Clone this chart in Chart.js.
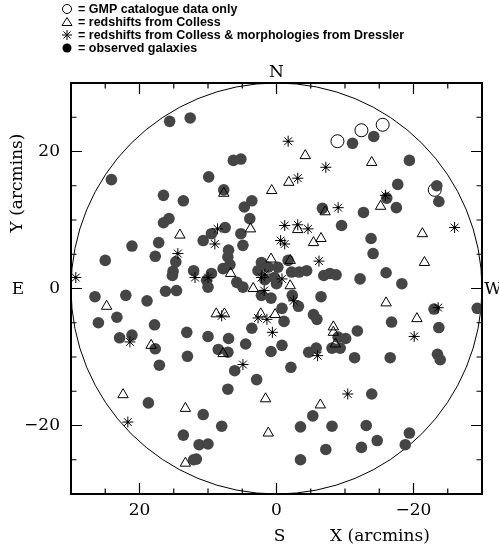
<!DOCTYPE html>
<html>
<head>
<meta charset="utf-8">
<script src="https://cdn.jsdelivr.net/npm/chart.js@4/dist/chart.umd.min.js"></script>
<style>
  body { margin: 0; background: #fff; }
  canvas { display: block; }
</style>
</head>
<body>
<canvas id="fieldChart" width="499" height="548"></canvas>
<script>
// Galaxy positions in arcmins, [X, Y]; X grows towards the east (left)
const gmpOnly = [
    [-8.9, 21.5], [-12.4, 23.1], [-15.5, 23.9], [-23.1, 14.4]
];

const collessRedshifts = [
    [14.1, 7.8], [-4.2, 19.4], [-1.8, 15.5], [0.7, 14.3], [7.7, 13.9],
    [-7.1, 11.2], [3.8, 8.7], [-3.1, 8.6], [-5.4, 6.7], [-6.5, 7.3],
    [6.7, 2.2], [0.8, 4.3], [-2.0, 4.1], [-2.0, 0.4], [3.4, 0.0],
    [-13.9, 18.4], [-15.2, 12.0], [-21.3, 8.0], [-21.6, 3.8], [24.8, -2.6],
    [18.3, -8.3], [22.4, -15.5], [13.3, -17.5], [13.3, -25.5], [8.8, -3.7],
    [7.6, -3.7], [2.3, -3.7], [0.2, -3.8], [-8.3, -5.6], [-8.3, -6.4],
    [-8.6, -8.1], [7.8, -9.5], [1.6, -16.1], [1.2, -21.1], [-6.4, -17.0],
    [-16.0, -2.1], [-20.5, -4.4]
];

const collessDressler = [
    [-1.7, 21.5], [-7.2, 17.7], [-3.1, 16.1], [-9.0, 11.8], [-1.2, 9.2],
    [-3.1, 9.3], [-4.6, 8.7], [-0.6, 7.0], [-1.2, 6.5], [8.6, 8.7],
    [9.0, 6.5], [14.4, 5.1], [29.3, 1.6], [11.9, 1.6], [10.0, 1.6],
    [1.7, 2.1], [2.2, 1.6], [-6.2, 4.0], [-0.8, 1.4], [1.8, -0.3],
    [-15.9, 13.6], [-26.0, 8.9], [-2.5, -1.8], [8.0, -4.0], [2.7, -4.3],
    [1.4, -4.5], [0.6, -6.4], [-6.0, -9.8], [4.9, -11.1], [21.4, -7.8],
    [21.7, -19.5], [-23.6, -2.8], [-20.1, -7.0], [-10.4, -15.4]
];

const observedGalaxies = [
    [15.6, 24.4], [12.6, 24.9], [24.1, 15.9], [9.9, 16.3], [16.5, 13.6],
    [13.6, 12.8], [15.7, 10.2], [16.5, 9.6], [10.7, 7.0], [17.2, 6.7],
    [21.1, 6.2], [17.7, 4.7], [14.7, 3.9], [25.0, 4.1], [15.1, 2.5],
    [15.2, 1.9], [12.1, 2.6], [16.2, -0.4], [14.6, -0.3], [6.3, 18.7],
    [5.2, 18.9], [7.7, 14.4], [3.6, 12.8], [4.7, 11.9], [-6.7, 11.7],
    [3.9, 10.2], [-9.5, 9.2], [7.5, 8.9], [9.5, 8.0], [5.2, 8.0],
    [4.9, 6.3], [7.0, 5.6], [7.1, 4.6], [6.8, 3.5], [7.8, 2.9],
    [9.5, 2.2], [10.2, 1.2], [5.8, 0.9], [4.9, 0.2], [2.2, 3.8],
    [-0.2, 3.1], [1.2, 3.1], [2.7, 2.6], [1.7, 1.3], [0.3, 1.6],
    [0.0, 0.7], [-1.7, 4.1], [-2.2, 2.4], [-3.3, 2.4], [-4.4, 2.6],
    [-6.9, 1.9], [-7.8, 2.2], [-8.7, 2.0], [-14.2, 22.2], [-11.1, 21.2],
    [-19.4, 18.7], [-17.7, 15.2], [-23.4, 15.0], [-16.1, 13.2], [-17.5, 11.8],
    [-23.7, 12.7], [-12.7, 11.1], [-13.8, 7.3], [-14.1, 5.1], [-16.0, 2.3],
    [-12.2, 1.4], [-18.3, 0.7], [26.5, -1.2], [22.0, -1.0], [18.9, -1.8],
    [10.0, 0.2], [26.0, -5.0], [23.3, -4.2], [17.8, -5.3], [22.9, -7.2],
    [21.1, -6.8], [17.7, -8.8], [13.1, -6.4], [10.0, -7.0], [13.0, -9.9],
    [17.1, -11.2], [18.7, -16.7], [10.7, -18.4], [13.6, -21.4], [11.3, -22.8],
    [10.0, -22.7], [12.1, -25.0], [11.7, -24.9], [2.2, -1.0], [0.8, -1.4],
    [-2.3, -1.0], [-3.2, -2.6], [-0.8, -2.9], [-6.5, -1.2], [-1.1, -4.8],
    [3.6, -5.8], [7.0, -7.3], [8.5, -8.9], [7.1, -9.3], [4.5, -8.1],
    [0.8, -9.2], [-0.8, -8.3], [-5.4, -3.8], [-5.9, -4.5], [-9.0, -7.1],
    [-8.1, -8.7], [-9.3, -8.7], [-4.7, -9.3], [-5.8, -8.7], [-2.1, -11.5],
    [6.1, -12.0], [2.9, -13.3], [7.1, -14.7], [8.0, -20.1], [-5.3, -18.6],
    [-3.5, -20.2], [-8.1, -20.1], [-7.2, -23.5], [-3.5, -25.0], [-23.0, -3.0],
    [-29.3, -2.9], [-16.8, -4.9], [-23.7, -5.7], [-10.1, -7.3], [-11.8, -6.2],
    [-11.4, -10.1], [-16.6, -10.1], [-23.5, -9.6], [-23.9, -10.4], [-13.9, -15.4],
    [-13.1, -20.0], [-12.4, -23.2], [-14.7, -22.2], [-19.4, -21.1], [-18.8, -22.8]
];

const axisLimit = 30;
const fieldRadius = 30;
const labelledTicks = [20, 0, -20];
const minorStep = 5;

const legendRows = [
    { symbol: 'open', text: '= GMP catalogue data only' },
    { symbol: 'triangle', text: '= redshifts from Colless' },
    { symbol: 'star', text: '= redshifts from Colless & morphologies from Dressler' },
    { symbol: 'filled', text: '= observed galaxies' }
];

const serifFont = '17px "DejaVu Serif"';
const ink = '#000';
const galaxyGrey = '#454545';

function toPoints(list) {
    return list.map(p => ({ x: p[0], y: p[1] }));
}

function formatTick(v) {
    return v < 0 ? '\u2212' + Math.abs(v) : String(v);
}

function drawStar(ctx, x, y, r) {
    ctx.beginPath();
    for (let i = 0; i < 4; i++) {
        const a = i * Math.PI / 4;
        ctx.moveTo(x - Math.cos(a) * r, y - Math.sin(a) * r);
        ctx.lineTo(x + Math.cos(a) * r, y + Math.sin(a) * r);
    }
    ctx.stroke();
}

/**
 * Field circle, boxed axes with inward ticks, compass letters and the key
 */
const fieldFrame = {
    id: 'fieldFrame',
    beforeDatasetsDraw(chart) {
        const { ctx, scales: { x, y } } = chart;
        const cx = x.getPixelForValue(0);
        const cy = y.getPixelForValue(0);
        const rx = Math.abs(x.getPixelForValue(fieldRadius) - cx);
        const ry = Math.abs(y.getPixelForValue(fieldRadius) - cy);
        ctx.save();
        ctx.beginPath();
        ctx.ellipse(cx, cy, rx, ry, 0, 0, Math.PI * 2);
        ctx.lineWidth = 1;
        ctx.strokeStyle = ink;
        ctx.stroke();
        ctx.restore();
    },
    afterDraw(chart) {
        const { ctx, chartArea: area, scales: { x, y } } = chart;
        ctx.save();
        ctx.strokeStyle = ink;
        ctx.fillStyle = ink;

        // frame
        ctx.lineWidth = 2;
        ctx.strokeRect(area.left, area.top, area.right - area.left, area.bottom - area.top);

        // inward ticks on all four sides
        ctx.lineWidth = 1.2;
        ctx.beginPath();
        for (let v = -axisLimit + minorStep; v < axisLimit; v += minorStep) {
            const len = labelledTicks.includes(v) ? 11 : 5.5;
            const px = x.getPixelForValue(v);
            const py = y.getPixelForValue(v);
            ctx.moveTo(px, area.bottom); ctx.lineTo(px, area.bottom - len);
            ctx.moveTo(px, area.top); ctx.lineTo(px, area.top + len);
            ctx.moveTo(area.left, py); ctx.lineTo(area.left + len, py);
            ctx.moveTo(area.right, py); ctx.lineTo(area.right - len, py);
        }
        ctx.stroke();

        // tick labels
        ctx.font = serifFont;
        ctx.textBaseline = 'middle';
        ctx.textAlign = 'center';
        labelledTicks.forEach(v => {
            ctx.fillText(formatTick(v), x.getPixelForValue(v), area.bottom + 17);
        });
        ctx.textAlign = 'right';
        labelledTicks.forEach(v => {
            ctx.fillText(formatTick(v), area.left - 11, y.getPixelForValue(v));
        });

        // compass points and axis titles
        const cx = x.getPixelForValue(0);
        const cy = y.getPixelForValue(0);
        ctx.textAlign = 'center';
        ctx.fillText('N', cx, area.top - 10);
        ctx.fillText('S', cx + 3, area.bottom + 43);
        ctx.fillText('E', 18, cy + 1);
        ctx.fillText('W', area.right + 11, cy + 1);
        ctx.textAlign = 'left';
        ctx.fillText('X (arcmins)', 330, area.bottom + 43);

        ctx.save();
        ctx.translate(18, 183);
        ctx.rotate(-Math.PI / 2);
        ctx.textAlign = 'center';
        ctx.fillText('Y (arcmins)', 0, 0);
        ctx.restore();

        // key
        ctx.font = 'bold 12.5px "Liberation Sans"';
        ctx.textAlign = 'left';
        ctx.lineWidth = 1;
        legendRows.forEach((row, i) => {
            const sy = 9 + i * 13;
            const sx = 67;
            if (row.symbol === 'open') {
                ctx.beginPath();
                ctx.arc(sx, sy, 4.5, 0, Math.PI * 2);
                ctx.stroke();
            } else if (row.symbol === 'triangle') {
                ctx.beginPath();
                ctx.moveTo(sx, sy - 4.5);
                ctx.lineTo(sx - 5, sy + 3.5);
                ctx.lineTo(sx + 5, sy + 3.5);
                ctx.closePath();
                ctx.stroke();
            } else if (row.symbol === 'star') {
                drawStar(ctx, sx, sy, 5);
            } else {
                ctx.beginPath();
                ctx.arc(sx, sy, 4.5, 0, Math.PI * 2);
                ctx.fill();
            }
            ctx.fillText(row.text, 78, sy + 1);
        });
        ctx.restore();
    }
};

new Chart(document.getElementById('fieldChart'), {
    type: 'scatter',
    data: {
        datasets: [
            {
                label: 'redshifts from Colless & morphologies from Dressler',
                data: toPoints(collessDressler),
                pointStyle: 'star',
                pointRadius: 5.5,
                borderColor: ink,
                borderWidth: 1,
                order: 0
            },
            {
                label: 'star centres',
                data: toPoints(collessDressler),
                pointStyle: 'circle',
                pointRadius: 1.3,
                backgroundColor: ink,
                borderWidth: 0,
                order: 0
            },
            {
                label: 'redshifts from Colless',
                data: toPoints(collessRedshifts),
                pointStyle: 'triangle',
                pointRadius: 6,
                borderColor: ink,
                backgroundColor: 'rgba(0,0,0,0)',
                borderWidth: 1,
                order: 1
            },
            {
                label: 'observed galaxies',
                data: toPoints(observedGalaxies),
                pointStyle: 'circle',
                pointRadius: 5.8,
                backgroundColor: galaxyGrey,
                borderColor: galaxyGrey,
                borderWidth: 0,
                order: 2
            },
            {
                label: 'GMP catalogue data only',
                data: toPoints(gmpOnly),
                pointStyle: 'circle',
                pointRadius: 6.5,
                borderColor: ink,
                backgroundColor: 'rgba(0,0,0,0)',
                borderWidth: 1,
                order: 3
            }
        ]
    },
    options: {
        responsive: false,
        animation: false,
        events: [],
        layout: {
            padding: { left: 71, top: 83, right: 17, bottom: 54 }
        },
        scales: {
            x: {
                type: 'linear',
                display: false,
                reverse: true,
                min: -axisLimit,
                max: axisLimit
            },
            y: {
                type: 'linear',
                display: false,
                min: -axisLimit,
                max: axisLimit
            }
        },
        plugins: {
            legend: { display: false },
            tooltip: { enabled: false }
        }
    },
    plugins: [fieldFrame]
});
</script>
</body>
</html>
